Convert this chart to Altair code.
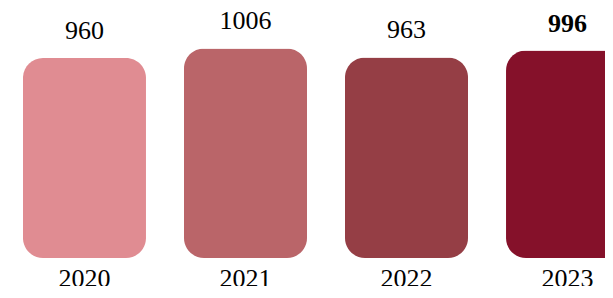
import altair as alt
import pandas as pd

years = ["2020", "2021", "2022", "2023"]
values = [960, 1006, 963, 996]
colors = ["#E08C92", "#BA6569", "#953E45", "#85112A"]
bold = [0, 0, 0, 1]

df = pd.DataFrame({"year": years, "value": values, "bold": bold})

FONT = "Liberation Serif"

base = alt.Chart(df).encode(
    x=alt.X(
        "year:N",
        sort=years,
        scale=alt.Scale(paddingInner=0.236, paddingOuter=0.093, range=[0, 636]),
        axis=alt.Axis(
            title=None, domain=False, ticks=False, tickSize=0,
            labelFontSize=26, labelFont=FONT, labelColor="black",
            labelPadding=7, labelAngle=0,
        ),
    )
)

bars = base.mark_bar(cornerRadius=20).encode(
    y=alt.Y("value:Q", scale=alt.Scale(domain=[0, 1200]), axis=None),
    color=alt.Color("year:N", scale=alt.Scale(domain=years, range=colors), legend=None),
)

text_normal = base.transform_filter("datum.bold == 0").mark_text(
    baseline="alphabetic", dy=-19, fontSize=26, font=FONT, color="black"
).encode(y="value:Q", text="value:Q")

text_bold = base.transform_filter("datum.bold == 1").mark_text(
    baseline="alphabetic", dy=-19, fontSize=26, font=FONT, color="black", fontWeight="bold"
).encode(y="value:Q", text="value:Q")

chart = alt.layer(bars, text_normal, text_bold).properties(
    width=597, height=250,
    autosize=alt.AutoSizeParams(type="none"),
    padding={"left": 0, "top": 0, "right": 0, "bottom": 28},
).configure_view(stroke=None)

chart.save("out.html", embed_options={"renderer": "svg", "actions": False})
